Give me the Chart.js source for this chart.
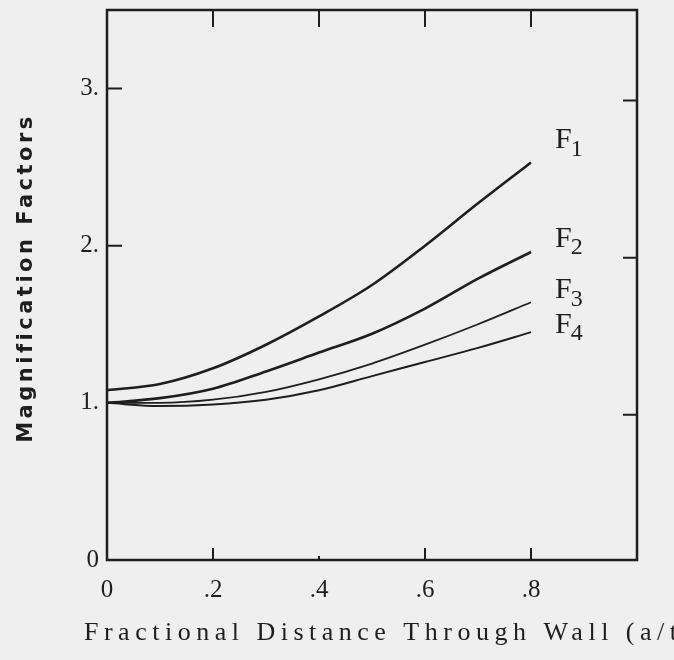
<!DOCTYPE html>
<html>
<head>
<meta charset="utf-8">
<title>Magnification Factors</title>
<script src="https://cdn.jsdelivr.net/npm/chart.js@4.4.0/dist/chart.umd.min.js"></script>
<style>
  html, body { margin: 0; padding: 0; background: #efefef; overflow: hidden; }
  #wrap { width: 674px; height: 660px; }
</style>
</head>
<body>
<div id="wrap"><canvas id="chart" width="674" height="660"></canvas></div>
<script>
// =================== Data ===================

const distance = [0, 0.1, 0.2, 0.3, 0.4, 0.5, 0.6, 0.7, 0.8];
const f1 = [1.08, 1.12, 1.22, 1.37, 1.55, 1.75, 2.0, 2.27, 2.53];
const f2 = [1.0, 1.03, 1.09, 1.2, 1.32, 1.44, 1.6, 1.79, 1.96];
const f3 = [1.0, 1.0, 1.02, 1.07, 1.15, 1.25, 1.37, 1.5, 1.64];
const f4 = [1.0, 0.98, 0.99, 1.02, 1.08, 1.17, 1.26, 1.35, 1.45];
const seriesSubscripts = ['1', '2', '3', '4'];

const xTicks = [0, 0.2, 0.4, 0.6, 0.8];
const xTickLabels = ['0', '.2', '.4', '.6', '.8'];
const yTicks = [0, 1, 2, 3];
const yTickLabels = ['0', '1.', '2.', '3.'];

const xTitle = 'Fractional Distance Through Wall (a/t)';
const yTitle = 'Magnification Factors';

// =================== Helpers ===================

const ink = '#1e1e1e';
const serif = '"Liberation Serif", "DejaVu Serif", serif';

function toPoints(ys) {
  return distance.map((x, i) => ({ x: x, y: ys[i] }));
}

function lineSet(ys, sub, width) {
  return {
    label: 'F' + sub,
    data: toPoints(ys),
    borderColor: ink,
    borderWidth: width,
    pointRadius: 0,
    fill: false,
    cubicInterpolationMode: 'monotone'
  };
}

// frame, inward tick marks, curve labels and axis titles
const paperPlugin = {
  id: 'paper',
  afterDraw(chart) {
    const ctx = chart.ctx;
    const a = chart.chartArea;
    const xs = chart.scales.x;
    const ys = chart.scales.y;
    ctx.save();
    ctx.strokeStyle = ink;
    ctx.lineCap = 'butt';

    // frame
    ctx.lineWidth = 2.5;
    ctx.strokeRect(a.left, a.top, a.right - a.left, a.bottom - a.top);

    // inward ticks
    ctx.lineWidth = 2;
    ctx.beginPath();
    xTicks.slice(1).forEach(v => {
      const px = xs.getPixelForValue(v);
      ctx.moveTo(px, a.top); ctx.lineTo(px, a.top + 17);
      ctx.moveTo(px, a.bottom); ctx.lineTo(px, a.bottom - (v === 0.4 ? 4 : 12));
    });
    yTicks.slice(1).forEach(v => {
      const py = ys.getPixelForValue(v);
      ctx.moveTo(a.left, py); ctx.lineTo(a.left + 15, py);
      ctx.moveTo(a.right, py + 12); ctx.lineTo(a.right - 14, py + 12);
    });
    ctx.stroke();

    // curve labels F1..F4 next to the end of each line
    const dy = [-22, -13, -12, -7];
    ctx.fillStyle = ink;
    ctx.textBaseline = 'middle';
    ctx.textAlign = 'left';
    chart.data.datasets.forEach((ds, i) => {
      const meta = chart.getDatasetMeta(i);
      const last = meta.data[meta.data.length - 1];
      const lx = last.x + 24;
      const ly = last.y + dy[i];
      ctx.font = '30px ' + serif;
      ctx.fillText('F', lx, ly);
      const w = ctx.measureText('F').width;
      ctx.font = '24px ' + serif;
      ctx.fillText(seriesSubscripts[i], lx + w - 1, ly + 9);
    });

    // x title, spaced like the typewriter original and running off the edge
    ctx.font = '26px ' + serif;
    ctx.letterSpacing = '5.5px';
    ctx.textBaseline = 'alphabetic';
    ctx.fillText(xTitle, 84, 640);

    // y title
    ctx.font = 'bold 21px "DejaVu Sans", sans-serif';
    ctx.letterSpacing = '3.5px';
    ctx.translate(32, 278);
    ctx.rotate(-Math.PI / 2);
    ctx.textAlign = 'center';
    ctx.fillText(yTitle, 0, 0);
    ctx.restore();
  }
};

// =================== Chart ===================

new Chart(document.getElementById('chart'), {
  type: 'line',
  data: {
    datasets: [
      lineSet(f1, seriesSubscripts[0], 2.6),
      lineSet(f2, seriesSubscripts[1], 2.6),
      lineSet(f3, seriesSubscripts[2], 1.8),
      lineSet(f4, seriesSubscripts[3], 2.0)
    ]
  },
  options: {
    responsive: false,
    animation: false,
    layout: { padding: { top: 10, right: 37, left: 0, bottom: 0 } },
    plugins: { legend: { display: false }, tooltip: { enabled: false } },
    scales: {
      x: {
        type: 'linear',
        min: 0,
        max: 1,
        afterBuildTicks: s => { s.ticks = xTicks.map(v => ({ value: v })); },
        afterFit: s => { s.height = 100; s.paddingLeft = 0; s.paddingRight = 0; },
        grid: { display: false, drawTicks: false },
        border: { display: false },
        ticks: {
          padding: 15,
          color: ink,
          font: { family: serif, size: 25 },
          callback: v => xTickLabels[xTicks.indexOf(v)]
        }
      },
      y: {
        min: 0,
        max: 3.5,
        afterBuildTicks: s => { s.ticks = yTicks.map(v => ({ value: v })); },
        afterFit: s => { s.width = 107; s.paddingTop = 0; s.paddingBottom = 0; },
        grid: { display: false, drawTicks: false },
        border: { display: false },
        ticks: {
          padding: 8,
          color: ink,
          font: { family: serif, size: 25 },
          callback: v => yTickLabels[yTicks.indexOf(v)]
        }
      }
    }
  },
  plugins: [paperPlugin]
});
</script>
</body>
</html>
